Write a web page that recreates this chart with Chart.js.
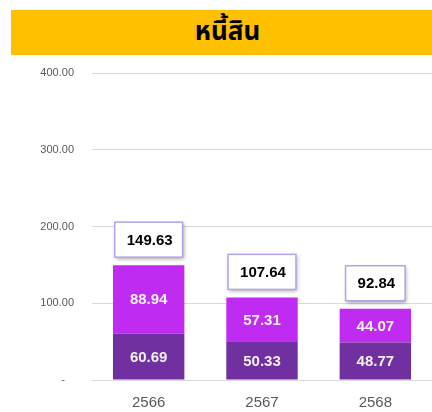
<!DOCTYPE html>
<html>
<head>
<meta charset="utf-8">
<script src="https://cdn.jsdelivr.net/npm/chart.js@4"></script>
<style>
  html, body { margin: 0; padding: 0; background: #ffffff; }
  #wrap { position: relative; width: 432px; height: 412px; overflow: hidden; }
  #banner {
    position: absolute; left: 11px; top: 10px; width: 421px; height: 45px;
    background: #FFC000; color: #000;
    font-family: "Noto Sans Thai", "Noto Serif Thai", Tahoma, "Noto Sans", sans-serif;
    font-weight: bold; font-size: 26px; line-height: 45px; text-align: center;
    box-sizing: border-box; padding-left: 12px; z-index: 2;
  }
  canvas { position: absolute; left: 0; top: 0; }
</style>
</head>
<body>
<div id="wrap">
  <div id="banner">หนี้สิน</div>
  <canvas id="c" width="432" height="412"></canvas>
</div>
<script>
const categories = ["2566", "2567", "2568"];
const seriesBottom = [60.69, 50.33, 48.77];
const seriesTop = [88.94, 57.31, 44.07];
const totals = [149.63, 107.64, 92.84];
const yTicks = [0, 100, 200, 300, 400];

const labelPlugin = {
  id: 'labels',
  afterDatasetsDraw(chart) {
    const ctx = chart.ctx;
    const y = chart.scales.y;
    ctx.save();
    chart.data.datasets.forEach((ds, di) => {
      const meta = chart.getDatasetMeta(di);
      meta.data.forEach((el, i) => {
        ctx.font = 'bold 15px Arial, "Liberation Sans", sans-serif';
        ctx.fillStyle = '#F2F2F2';
        ctx.textAlign = 'center';
        ctx.textBaseline = 'middle';
        ctx.fillText(ds.data[i].toFixed(2), el.x, (el.y + el.base) / 2 + 1);
      });
    });
    const meta0 = chart.getDatasetMeta(0);
    totals.forEach((t, i) => {
      const el = meta0.data[i];
      const top = y.getPixelForValue(t);
      ctx.font = 'bold 15px Arial, "Liberation Sans", sans-serif';
      const txt = t.toFixed(2);
      const w = ctx.measureText(txt).width + 22;
      const h = 35;
      const bx = el.x - w / 2;
      const by = top - 8 - h;
      ctx.save();
      ctx.shadowColor = 'rgba(0,0,0,0.35)';
      ctx.shadowBlur = 4;
      ctx.shadowOffsetX = 1;
      ctx.shadowOffsetY = 2;
      ctx.fillStyle = '#ffffff';
      ctx.fillRect(bx, by, w, h);
      ctx.restore();
      ctx.strokeStyle = '#B7A2E8';
      ctx.lineWidth = 1.5;
      ctx.strokeRect(bx, by, w, h);
      ctx.fillStyle = '#000000';
      ctx.textAlign = 'center';
      ctx.textBaseline = 'middle';
      ctx.fillText(txt, el.x + 1, by + h / 2 + 1);
    });
    ctx.restore();
  }
};

new Chart(document.getElementById('c'), {
  type: 'bar',
  data: {
    labels: categories,
    datasets: [
      { label: 'bottom', data: seriesBottom, backgroundColor: '#7030A0', barPercentage: 0.63, categoryPercentage: 1 },
      { label: 'top', data: seriesTop, backgroundColor: '#C02BF2', barPercentage: 0.63, categoryPercentage: 1 }
    ]
  },
  options: {
    responsive: false,
    animation: false,
    devicePixelRatio: 1,
    layout: { padding: { top: 73, right: 0, bottom: 0, left: 0 } },
    plugins: { legend: { display: false }, tooltip: { enabled: false }, title: { display: false } },
    scales: {
      x: {
        stacked: true,
        grid: { display: false, drawTicks: false },
        border: { display: false },
        ticks: { color: '#595959', font: { size: 15, family: 'Arial, "Liberation Sans", sans-serif' }, padding: 14 },
        afterFit(s) { s.height = 32; }
      },
      y: {
        stacked: true,
        min: 0, max: 400,
        afterBuildTicks(s) { s.ticks = yTicks.map(v => ({ value: v })); },
        grid: { color: '#D9D9D9', drawTicks: false, lineWidth: 1 },
        border: { display: false },
        ticks: {
          color: '#595959',
          font: { size: 11, family: 'Arial, "Liberation Sans", sans-serif' },
          padding: 18,
          callback: (v) => v === 0 ? '-   ' : v.toFixed(2)
        },
        afterFit(s) { s.width = 92; }
      }
    }
  },
  plugins: [labelPlugin]
});
</script>
</body>
</html>
